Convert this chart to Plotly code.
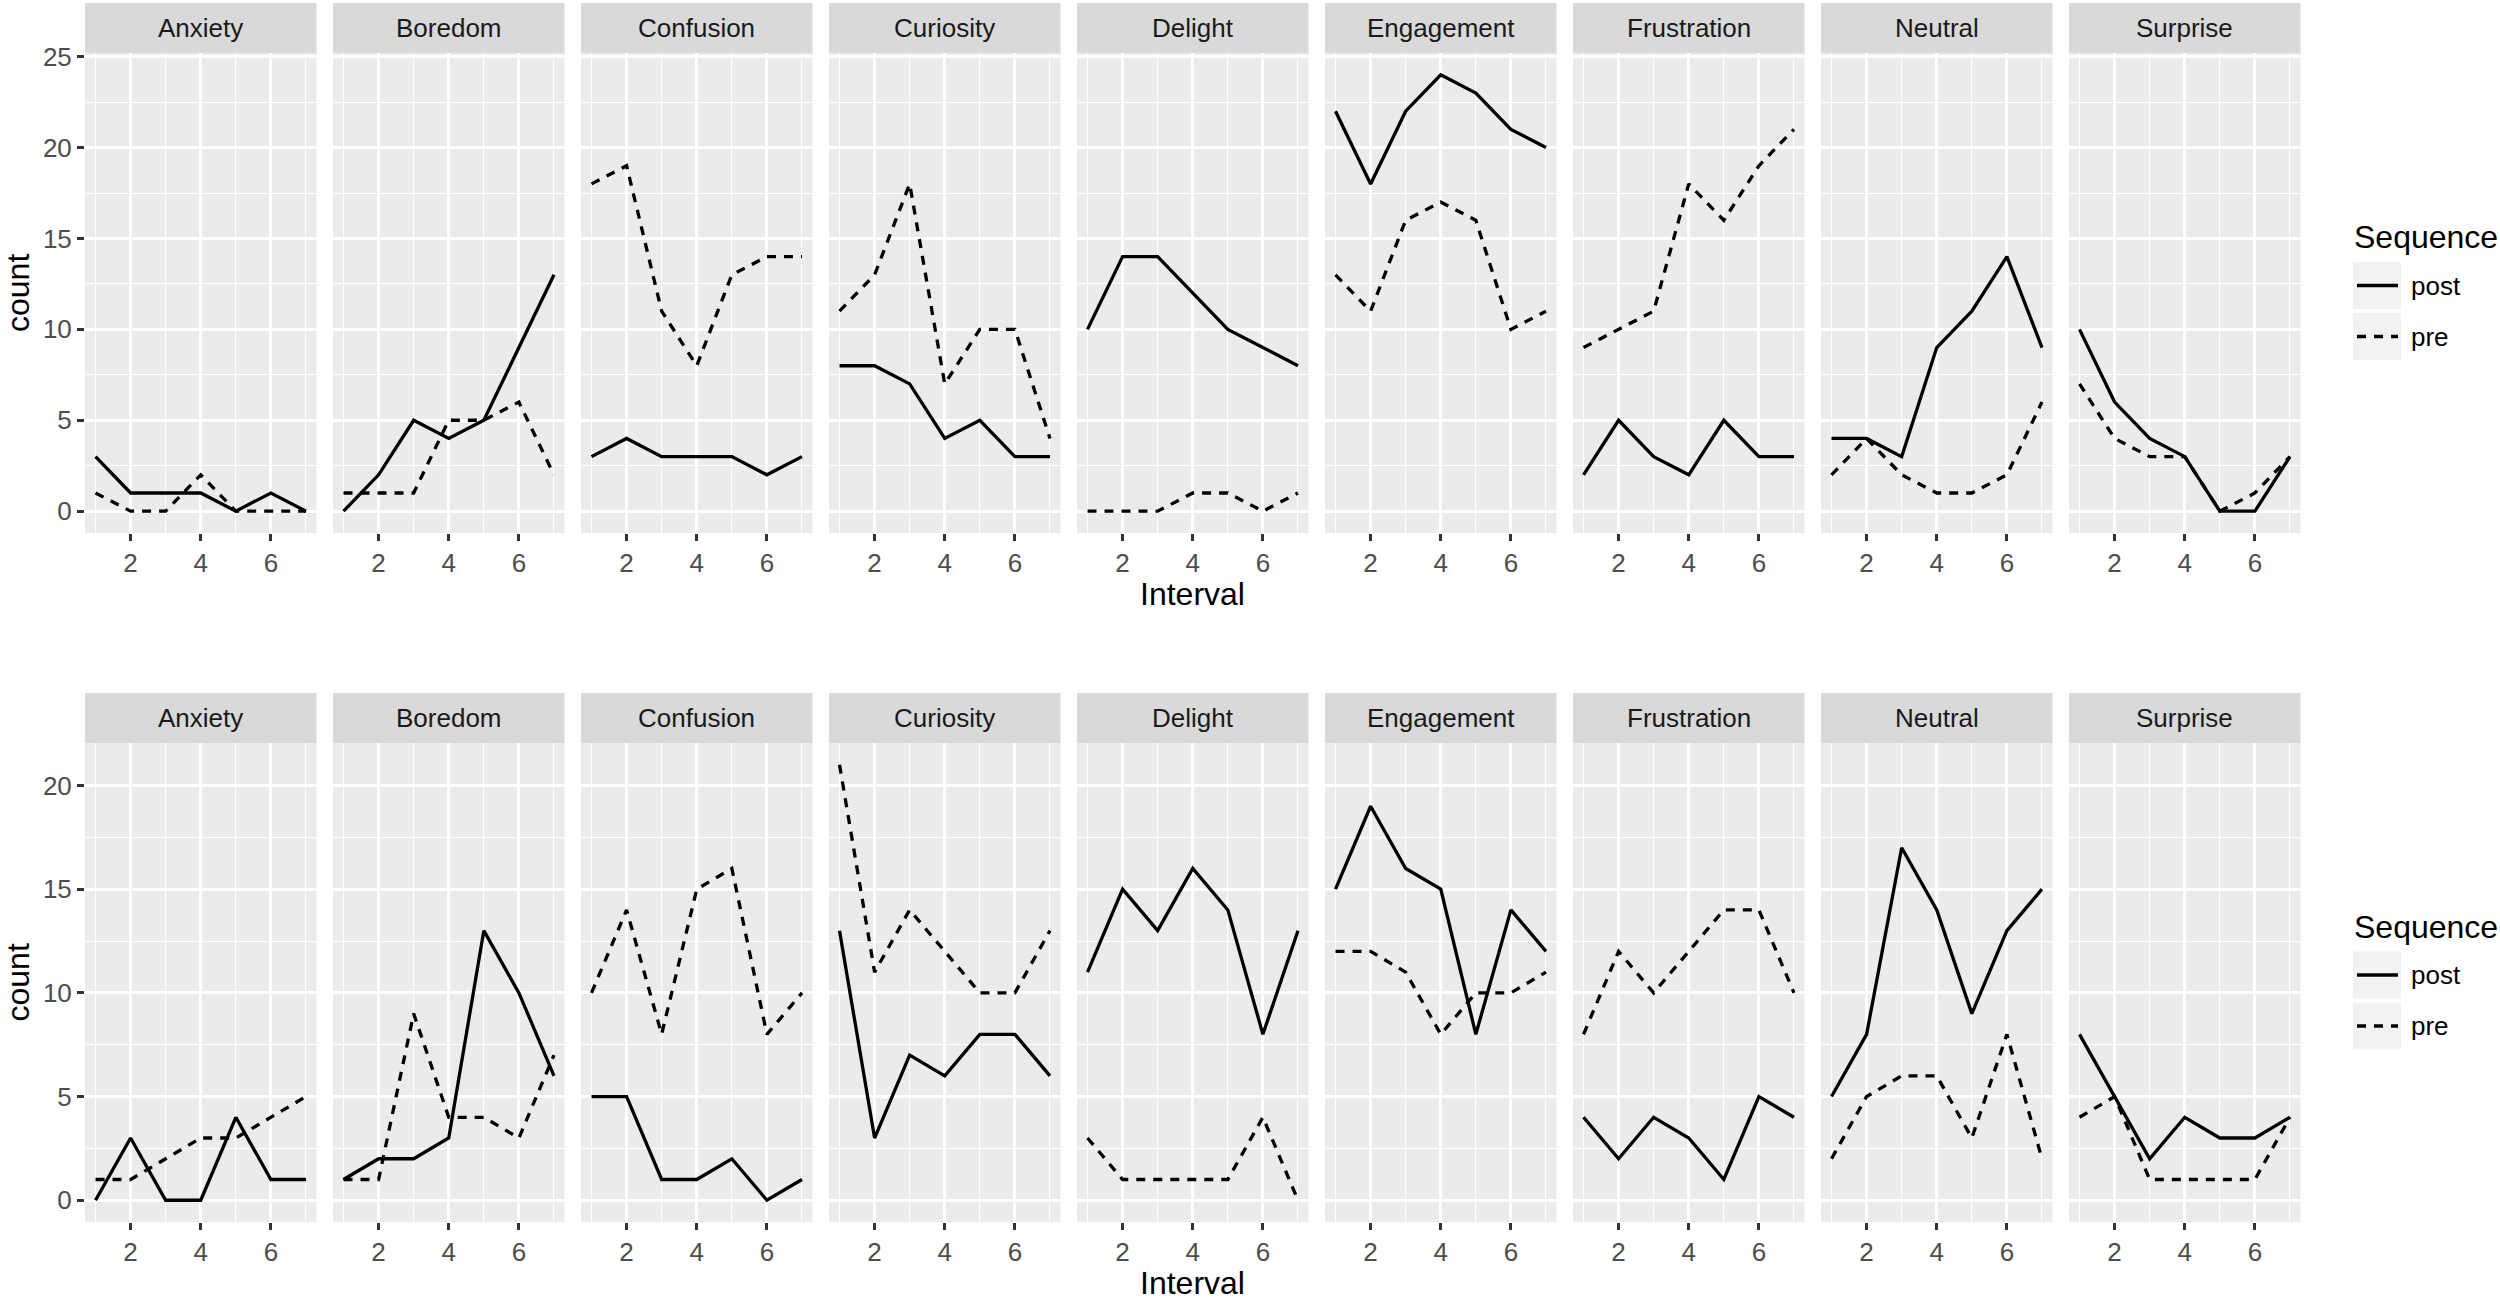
import plotly.graph_objects as go

# ---------------- data ----------------
emotions = ["Anxiety", "Boredom", "Confusion", "Curiosity", "Delight",
            "Engagement", "Frustration", "Neutral", "Surprise"]
intervals = [1, 2, 3, 4, 5, 6, 7]
x_ticks = [2, 4, 6]
y_ticks_top = [0, 5, 10, 15, 20, 25]
y_ticks_bottom = [0, 5, 10, 15, 20]
sequences = ["post", "pre"]

top_post = {
    "Anxiety": [3, 1, 1, 1, 0, 1, 0],
    "Boredom": [0, 2, 5, 4, 5, 9, 13],
    "Confusion": [3, 4, 3, 3, 3, 2, 3],
    "Curiosity": [8, 8, 7, 4, 5, 3, 3],
    "Delight": [10, 14, 14, 12, 10, 9, 8],
    "Engagement": [22, 18, 22, 24, 23, 21, 20],
    "Frustration": [2, 5, 3, 2, 5, 3, 3],
    "Neutral": [4, 4, 3, 9, 11, 14, 9],
    "Surprise": [10, 6, 4, 3, 0, 0, 3],
}
top_pre = {
    "Anxiety": [1, 0, 0, 2, 0, 0, 0],
    "Boredom": [1, 1, 1, 5, 5, 6, 2],
    "Confusion": [18, 19, 11, 8, 13, 14, 14],
    "Curiosity": [11, 13, 18, 7, 10, 10, 4],
    "Delight": [0, 0, 0, 1, 1, 0, 1],
    "Engagement": [13, 11, 16, 17, 16, 10, 11],
    "Frustration": [9, 10, 11, 18, 16, 19, 21],
    "Neutral": [2, 4, 2, 1, 1, 2, 6],
    "Surprise": [7, 4, 3, 3, 0, 1, 3],
}
bottom_post = {
    "Anxiety": [0, 3, 0, 0, 4, 1, 1],
    "Boredom": [1, 2, 2, 3, 13, 10, 6],
    "Confusion": [5, 5, 1, 1, 2, 0, 1],
    "Curiosity": [13, 3, 7, 6, 8, 8, 6],
    "Delight": [11, 15, 13, 16, 14, 8, 13],
    "Engagement": [15, 19, 16, 15, 8, 14, 12],
    "Frustration": [4, 2, 4, 3, 1, 5, 4],
    "Neutral": [5, 8, 17, 14, 9, 13, 15],
    "Surprise": [8, 5, 2, 4, 3, 3, 4],
}
bottom_pre = {
    "Anxiety": [1, 1, 2, 3, 3, 4, 5],
    "Boredom": [1, 1, 9, 4, 4, 3, 7],
    "Confusion": [10, 14, 8, 15, 16, 8, 10],
    "Curiosity": [21, 11, 14, 12, 10, 10, 13],
    "Delight": [3, 1, 1, 1, 1, 4, 0],
    "Engagement": [12, 12, 11, 8, 10, 10, 11],
    "Frustration": [8, 12, 10, 12, 14, 14, 10],
    "Neutral": [2, 5, 6, 6, 3, 8, 2],
    "Surprise": [4, 5, 1, 1, 1, 1, 4],
}

# ---------------- layout geometry (pixels) ----------------
W, H = 2500, 1301
FONT = "Liberation Sans"
PANEL_LEFT0 = 85
PANEL_STEP = 248
PANEL_W = 231.5
rows = [
    dict(post=top_post, pre=top_pre, strip=(3, 53), panel=(53, 533),
         yticks=y_ticks_top, title_y=594),
    dict(post=bottom_post, pre=bottom_pre, strip=(693, 743), panel=(743, 1222),
         yticks=y_ticks_bottom, title_y=1283),
]


def px(x):
    return x / W


def py(y):
    return 1 - y / H


def expand_range(vals, mult=0.05):
    lo, hi = min(vals), max(vals)
    d = (hi - lo) * mult
    return [lo - d, hi + d]


fig = go.Figure()
layout = dict(
    width=W, height=H, autosize=False,
    margin=dict(l=0, r=0, t=0, b=0, pad=0, autoexpand=False),
    paper_bgcolor="white", plot_bgcolor="#EBEBEB",
    showlegend=False,
    font=dict(family=FONT, color="#1A1A1A"),
)
shapes = []
annotations = []

xr = expand_range(intervals)
MAJOR_W, MINOR_W = 2.8, 1.4
LINE_W = 3.3
DASH = "9px,8px"

for r, row in enumerate(rows):
    all_vals = [v for d in (row["post"], row["pre"]) for e in emotions for v in d[e]]
    yr = expand_range([0] + all_vals)
    yt = row["yticks"]
    yminor = [t + 2.5 for t in yt if t + 2.5 < yr[1]]
    p0, p1 = row["panel"]
    s0, s1 = row["strip"]
    for c, emo in enumerate(emotions):
        k = r * 9 + c + 1
        xname = "xaxis" if k == 1 else f"xaxis{k}"
        yname = "yaxis" if k == 1 else f"yaxis{k}"
        xref = "x" if k == 1 else f"x{k}"
        yref = "y" if k == 1 else f"y{k}"
        left = PANEL_LEFT0 + c * PANEL_STEP
        right = left + PANEL_W
        layout[xname] = dict(
            domain=[px(left), px(right)], anchor=yref, range=xr,
            tickvals=x_ticks, ticktext=[str(t) for t in x_ticks],
            ticks="outside", ticklen=7, tickwidth=3, tickcolor="#333333",
            tickfont=dict(family=FONT, size=26, color="#4D4D4D"),
            showgrid=True, gridcolor="white", gridwidth=MAJOR_W,
            zeroline=False, showline=False, fixedrange=True, automargin=False,
            minor=dict(tickvals=intervals[::2], showgrid=True,
                       gridcolor="white", gridwidth=MINOR_W, ticks=""),
        )
        ydict = dict(
            domain=[py(p1), py(p0)], anchor=xref, range=yr,
            tickvals=yt, showgrid=True, gridcolor="white", gridwidth=MAJOR_W,
            zeroline=False, showline=False, fixedrange=True, automargin=False,
            minor=dict(tickvals=yminor, showgrid=True,
                       gridcolor="white", gridwidth=MINOR_W, ticks=""),
        )
        if c == 0:
            ydict.update(ticks="outside", ticklen=7, tickwidth=3, tickcolor="#333333",
                         showticklabels=True,
                         ticktext=[str(t) for t in yt],
                         tickfont=dict(family=FONT, size=26, color="#4D4D4D"))
        else:
            ydict.update(ticks="", showticklabels=False)
        layout[yname] = ydict

        for seq in sequences:
            fig.add_trace(go.Scatter(
                x=intervals, y=row[seq][emo], mode="lines", name=seq,
                xaxis=xref, yaxis=yref, hoverinfo="skip",
                line=dict(color="black", width=LINE_W,
                          dash="solid" if seq == "post" else DASH),
            ))

        # facet strip
        shapes.append(dict(type="rect", xref="paper", yref="paper",
                           x0=px(left), x1=px(right), y0=py(s1), y1=py(s0),
                           fillcolor="#D9D9D9", line=dict(width=0), layer="below"))
        annotations.append(dict(text=emo, xref="paper", yref="paper",
                                x=px((left + right) / 2), y=py((s0 + s1) / 2),
                                xanchor="center", yanchor="middle", showarrow=False,
                                font=dict(family=FONT, size=26, color="#1A1A1A")))

    # axis titles
    pc = (p0 + p1) / 2
    annotations.append(dict(text="count", xref="paper", yref="paper",
                            x=px(18), y=py(pc), textangle=-90,
                            xanchor="center", yanchor="middle", showarrow=False,
                            font=dict(family=FONT, size=32, color="black")))
    total_left = PANEL_LEFT0
    total_right = PANEL_LEFT0 + 8 * PANEL_STEP + PANEL_W
    annotations.append(dict(text="Interval", xref="paper", yref="paper",
                            x=px((total_left + total_right) / 2), y=py(row["title_y"]),
                            xanchor="center", yanchor="middle", showarrow=False,
                            font=dict(family=FONT, size=32, color="black")))

    # legend (drawn per row, like the separate ggplot facets)
    off = pc - 293
    annotations.append(dict(text="Sequence", xref="paper", yref="paper",
                            x=px(2352), y=py(237 + off), xanchor="left", yanchor="middle",
                            showarrow=False, font=dict(family=FONT, size=32, color="black")))
    for i, seq in enumerate(sequences):
        ky0 = 262 + i * 51 + off
        ky1 = ky0 + 47
        kc = (ky0 + ky1) / 2
        shapes.append(dict(type="rect", xref="paper", yref="paper",
                           x0=px(2353), x1=px(2401), y0=py(ky1), y1=py(ky0),
                           fillcolor="#F2F2F2", line=dict(width=0)))
        shapes.append(dict(type="line", xref="paper", yref="paper",
                           x0=px(2357), x1=px(2398), y0=py(kc), y1=py(kc),
                           line=dict(color="black", width=LINE_W,
                                     dash="solid" if seq == "post" else DASH)))
        annotations.append(dict(text=seq, xref="paper", yref="paper",
                                x=px(2409), y=py(kc), xanchor="left", yanchor="middle",
                                showarrow=False,
                                font=dict(family=FONT, size=26, color="black")))

layout["shapes"] = shapes
layout["annotations"] = annotations
fig.update_layout(**layout)
fig.write_html("out.html", config={"displayModeBar": False},
               post_script="document.body.style.margin='0';")
